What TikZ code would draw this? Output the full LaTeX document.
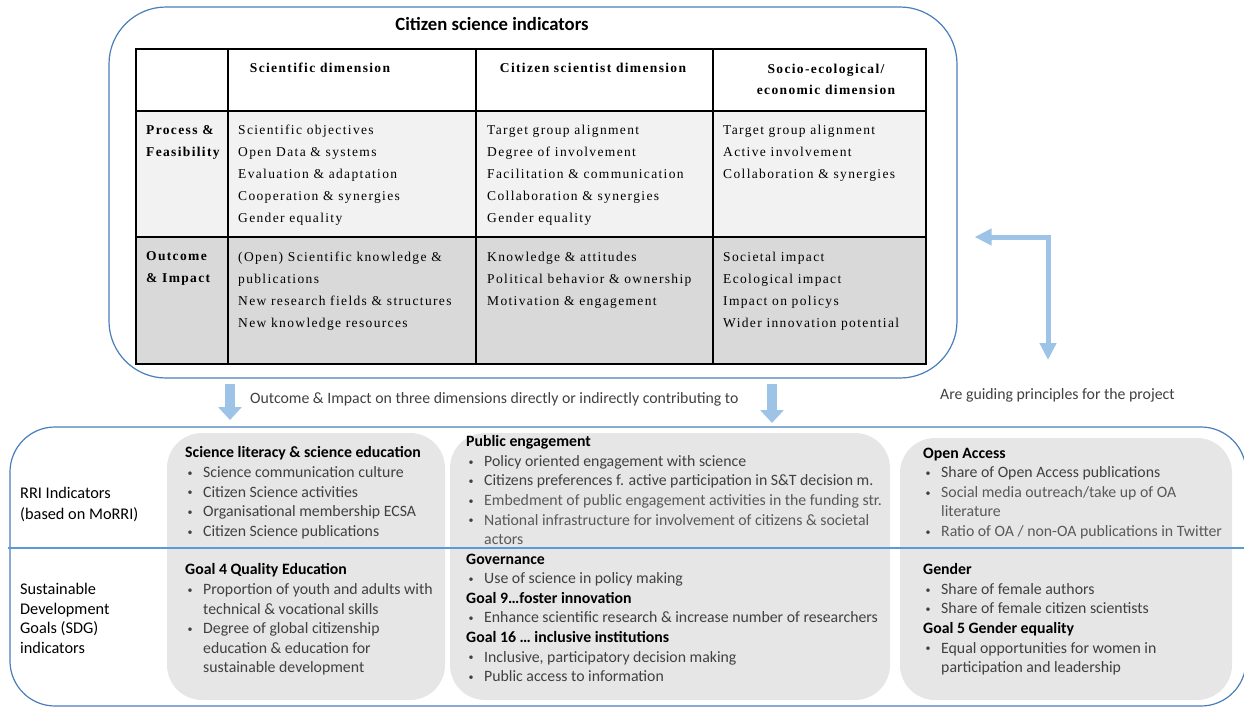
\documentclass[tikz,border=0pt]{standalone}
\usepackage{fontspec}
\setmainfont{Carlito}
\newfontfamily\tabfont[LetterSpace=10]{Liberation Serif}
\usetikzlibrary{arrows.meta,positioning}

\definecolor{frameblue}{HTML}{4A7EBB}
\definecolor{arrowblue}{HTML}{9DC3E6}
\definecolor{lineblue}{HTML}{5B9BD5}
\definecolor{boxgray}{HTML}{E6E6E6}
\definecolor{rowlight}{HTML}{F2F2F2}
\definecolor{rowdark}{HTML}{D9D9D9}
\definecolor{txtgray}{HTML}{404040}
\definecolor{txtlight}{HTML}{595959}

\newcommand{\bl}{\makebox[18pt][l]{\hspace{2.5pt}\raisebox{1.2pt}{\fontsize{10}{10}\selectfont\textbullet}}}
\newcommand{\ct}{\hspace*{18pt}}

\begin{document}
\begin{tikzpicture}[x=1pt,y=-1pt,
  frame/.style={draw=frameblue,line width=1.2pt,rounded corners=#1,inner sep=0pt},
  graybox/.style={fill=boxgray,rounded corners=35pt,inner sep=0pt},
  celltext/.style={anchor=north west,inner sep=0pt,align=left,
    font=\tabfont\fontsize{13.5}{22}\selectfont},
  headtext/.style={inner sep=0pt,align=center,
    font=\tabfont\bfseries\fontsize{13.5}{21}\selectfont},
  indtext/.style={anchor=north west,inner sep=0pt,align=left,text=txtgray,
    font=\fontsize{15.8}{19.6}\selectfont},
  sidetext/.style={anchor=north west,inner sep=0pt,align=left,
    font=\fontsize{16.3}{20.5}\selectfont},
  blockarrow/.style={draw=arrowblue,line width=10pt,
    -{Triangle[length=13pt,width=23pt]}},
  guidearrow/.style={draw=arrowblue,line width=5pt,
    {Triangle[length=17pt,width=16pt]}-{Triangle[length=17pt,width=16pt]}}]
\path[use as bounding box,clip] (0,0) rectangle (1244,707);

% citizen science indicators
\node[frame=57pt,minimum width=848pt,minimum height=371pt] (citizenbox) at (533,192.5) {};
\node[font=\bfseries\fontsize{18.7}{22}\selectfont] (title) at (492,24) {Citizen science indicators};

\fill[rowlight] (136,111) rectangle (926,237);
\fill[rowdark] (136,237) rectangle (926,364);
\draw[line width=1.8pt] (136,49) rectangle (926,364);
\foreach \y in {111,237} \draw[line width=1.8pt] (136,\y) -- (926,\y);
\foreach \x in {228,476,713} \draw[line width=1.8pt] (\x,49) -- (\x,364);

\node[headtext] (scidim) at (320,68) {Scientific dimension};
\node[headtext] (citdim) at (593,68) {Citizen scientist dimension};
\node[headtext] (socdim) at (826,79) {Socio-ecological/\\economic dimension};
\node[celltext,font=\tabfont\bfseries\fontsize{13.5}{22}\selectfont] (process) at (146,125) {Process \&\\Feasibility};
\node[celltext,font=\tabfont\bfseries\fontsize{13.5}{22}\selectfont] (outcome) at (146,251.5) {Outcome\\\& Impact};

\node[celltext] (sciproc) at (238,125) {Scientific objectives\\Open Data \& systems\\Evaluation \& adaptation\\Cooperation \& synergies\\Gender equality};
\node[celltext] (citproc) at (487,125) {Target group alignment\\Degree of involvement\\Facilitation \& communication\\Collaboration \& synergies\\Gender equality};
\node[celltext] (socproc) at (723,125) {Target group alignment\\Active involvement\\Collaboration \& synergies};
\node[celltext] (sciout) at (238,251.5) {(Open) Scientific knowledge \&\\publications\\New research fields \& structures\\New knowledge resources};
\node[celltext] (citout) at (487,251.5) {Knowledge \& attitudes\\Political behavior \& ownership\\Motivation \& engagement};
\node[celltext] (socout) at (723,251.5) {Societal impact\\Ecological impact\\Impact on policys\\Wider innovation potential};

% indicator boxes
\node[frame=45pt,minimum width=1236pt,minimum height=279pt] (indicatorbox) at (628,566.5) {};
\node[graybox,minimum width=278pt,minimum height=267pt] (literacybox) at (306,566.5) {};
\node[graybox,minimum width=440pt,minimum height=267pt] (engagebox) at (670,566.5) {};
\node[graybox,minimum width=332pt,minimum height=262pt] (accessbox) at (1066,569) {};
\draw[lineblue,line width=1.2pt] (8,548) -- (1244,548);

\node[sidetext] (rrilabel) at (20,487) {RRI Indicators\\(based on MoRRI)};
\node[sidetext,font=\fontsize{16.3}{19.5}\selectfont] (sdglabel) at (20,583) {Sustainable\\Development\\Goals (SDG)\\indicators};

\node[indtext] (literacy) at (185,446.5) {\textcolor{black}{\textbf{Science literacy \& science education}}\\
  \bl Science communication culture\\\bl Citizen Science activities\\
  \bl Organisational membership ECSA\\\bl Citizen Science publications};
\node[indtext] (goalfour) at (185,563.5) {\textcolor{black}{\textbf{Goal 4 Quality Education}}\\
  \bl Proportion of youth and adults with\\\ct technical \& vocational skills\\
  \bl Degree of global citizenship\\\ct education \& education for\\\ct sustainable development};
\node[indtext] (engagement) at (466,435.5) {\textcolor{black}{\textbf{Public engagement}}\\
  \bl Policy oriented engagement with science\\
  \bl Citizens preferences f. active participation in S\&T decision m.\\
  \bl\textcolor{txtlight}{Embedment of public engagement activities in the funding str.}\\
  \bl\textcolor{txtlight}{National infrastructure for involvement of citizens \& societal}\\
  \ct\textcolor{txtlight}{actors}};
\node[indtext] (governance) at (466,553.5) {\textcolor{black}{\textbf{Governance}}\\
  \bl Use of science in policy making\\
  \textcolor{black}{\textbf{Goal 9\dots foster innovation}}\\
  \bl Enhance scientific research \& increase number of researchers\\
  \textcolor{black}{\textbf{Goal 16 \dots\ inclusive institutions}}\\
  \bl Inclusive, participatory decision making\\\bl Public access to information};
\node[indtext] (openaccess) at (923,447.5) {\textcolor{black}{\textbf{Open Access}}\\
  \bl Share of Open Access publications\\
  \bl\textcolor{txtlight}{Social media outreach/take up of OA}\\\ct\textcolor{txtlight}{literature}\\
  \bl\textcolor{txtlight}{Ratio of OA / non-OA publications in Twitter}};
\node[indtext] (gender) at (923,563.5) {\textcolor{black}{\textbf{Gender}}\\
  \bl Share of female authors\\\bl Share of female citizen scientists\\
  \textcolor{black}{\textbf{Goal 5 Gender equality}}\\
  \bl Equal opportunities for women in\\\ct participation and leadership};

% arrows
\coordinate (outa) at (230,384);
\coordinate (ina) at (230,420);
\coordinate (outb) at (772,384);
\coordinate (inb) at (772,423);
\draw[blockarrow] (outa) -- (ina);
\draw[blockarrow] (outb) -- (inb);
\node[anchor=west,inner sep=0pt,text=txtgray,font=\fontsize{15.8}{18}\selectfont] (contrib) at (250,399)
  {Outcome \& Impact on three dimensions directly or indirectly contributing to};

\node[anchor=west,inner sep=0pt,text=txtgray,font=\fontsize{15.8}{18}\selectfont] (guiding) at (940,395)
  {Are guiding principles for the project};
\coordinate (guidetop) at (citizenbox.east |- 0,237);
\draw[guidearrow] ([xshift=17pt]guidetop) -| (1048,360);
\end{tikzpicture}
\end{document}
